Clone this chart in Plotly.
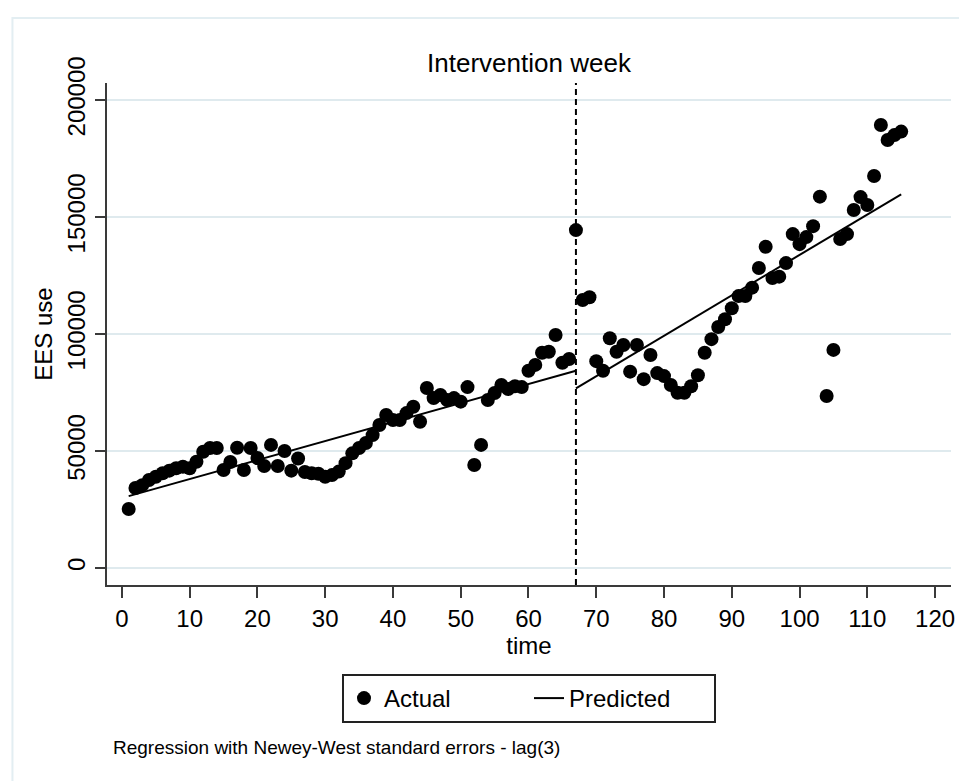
import plotly.graph_objects as go

# ---- data ----
time = list(range(1, 116))
actual = [
    25200, 34200, 35400, 37600, 39000, 40500, 41600, 42600, 43300, 42600,
    45400, 49700, 51300, 51300, 41900, 45300, 51400, 41900, 51300, 47000,
    43600, 52600, 43600, 50000, 41600, 46800, 41000, 40500, 40300, 39000,
    39700, 41200, 44800, 49000, 51300, 53400, 56800, 61100, 65400, 63200,
    63200, 66200, 68900, 62500, 76900, 72600, 73900, 71800, 72600, 71100,
    77300, 44000, 52600, 71800, 74800, 78200, 76500, 77700, 77300, 84300,
    86800, 92000, 92400, 99600, 87700, 89300, 144400, 114500, 115700, 88400,
    84300, 98200, 92400, 95300, 83900, 95300, 80700, 91000, 83300, 82000,
    78200, 74900, 74900, 77700, 82400, 92000, 97800, 103000, 106300, 111000,
    116200, 116200, 119800, 128200, 137300, 123900, 124500, 130300, 142700, 138400,
    141400, 146100, 158700, 73500, 93200, 140600, 142700, 153000, 158500, 155100,
    167500, 189300, 182900, 185000, 186500,
]
# predicted (segmented regression) endpoints: pre- and post-intervention
pred_time = [1, 67, None, 67, 115]
pred_values = [30700, 84300, None, 76800, 159700]
intervention_week = 67

x_ticks = list(range(0, 121, 10))
y_ticks = [0, 50000, 100000, 150000, 200000]

FONT = "Liberation Sans, Arial, sans-serif"
GRID = "#dfeaee"
AXIS = "#3a3a3a"

# the page body adds an 8px offset; compensate so the plot lands where the reference has it
OFF = 8
W, H = 967 - OFF, 781 - OFF
PL, PR, PT, PB = 107, 955, 83, 585  # plot area in page pixels
PW, PH = PR - PL, PB - PT

fig = go.Figure()
fig.add_trace(go.Scatter(
    x=time, y=actual, mode="markers", name="Actual",
    marker=dict(color="black", size=14, line=dict(width=0)),
))
fig.add_trace(go.Scatter(
    x=pred_time, y=pred_values, mode="lines", name="Predicted",
    line=dict(color="black", width=2), connectgaps=False,
))

fig.add_shape(type="line", xref="x", yref="paper",
              x0=intervention_week, x1=intervention_week, y0=0, y1=1,
              line=dict(color="black", width=2, dash="6px,4px"))

# outer light frame
fig.add_shape(type="rect", xref="paper", yref="paper",
              x0=(12 - PL) / PW, x1=1.2, y0=(PB - 18) / PH, y1=-0.5,
              line=dict(color="#e3eef2", width=2), fillcolor="rgba(0,0,0,0)",
              layer="below")

fig.add_annotation(
    text="Regression with Newey-West standard errors - lag(3)",
    xref="paper", yref="paper", x=(111 - PL) / PW, y=(PB - 747) / PH,
    xanchor="left", yanchor="middle", showarrow=False,
    font=dict(family=FONT, size=19, color="black"),
)

fig.update_layout(
    width=W, height=H,
    margin=dict(l=PL - OFF, r=W - (PR - OFF), t=PT - OFF, b=H - (PB - OFF)),
    paper_bgcolor="white", plot_bgcolor="white",
    font=dict(family=FONT, color="black"),
    title=dict(text="Intervention week", x=0.5, xref="paper",
               y=1 - (63 - OFF) / H, yref="container", yanchor="middle",
               font=dict(family=FONT, size=26, color="black")),
    showlegend=True,
    legend=dict(orientation="h", x=0.5, xanchor="center",
                y=(PB - 674) / PH, yanchor="top",
                bordercolor="#222222", borderwidth=2,
                font=dict(family=FONT, size=24, color="black"),
                itemwidth=30, entrywidthmode="pixels", entrywidth=140,
                bgcolor="white"),
)

fig.update_xaxes(
    range=[-2.2, 122.35], tickvals=x_ticks, ticktext=[str(v) for v in x_ticks],
    showgrid=False, zeroline=False,
    showline=True, linecolor=AXIS, linewidth=2,
    ticks="outside", ticklen=11, tickwidth=2, tickcolor=AXIS,
    tickfont=dict(family=FONT, size=24, color="black"),
    title=dict(text="time", font=dict(family=FONT, size=24, color="black"), standoff=4),
)
fig.update_yaxes(
    range=[-7265, 207265], tickvals=y_ticks, ticktext=[str(v) for v in y_ticks],
    tickangle=-90,
    showgrid=True, gridcolor=GRID, gridwidth=1.5, zeroline=False,
    showline=True, linecolor=AXIS, linewidth=2,
    ticks="outside", ticklen=10, tickwidth=2, tickcolor=AXIS,
    tickfont=dict(family=FONT, size=24, color="black"),
    title=dict(text="EES use", font=dict(family=FONT, size=24, color="black"), standoff=4),
)

fig.write_html("out.html")
